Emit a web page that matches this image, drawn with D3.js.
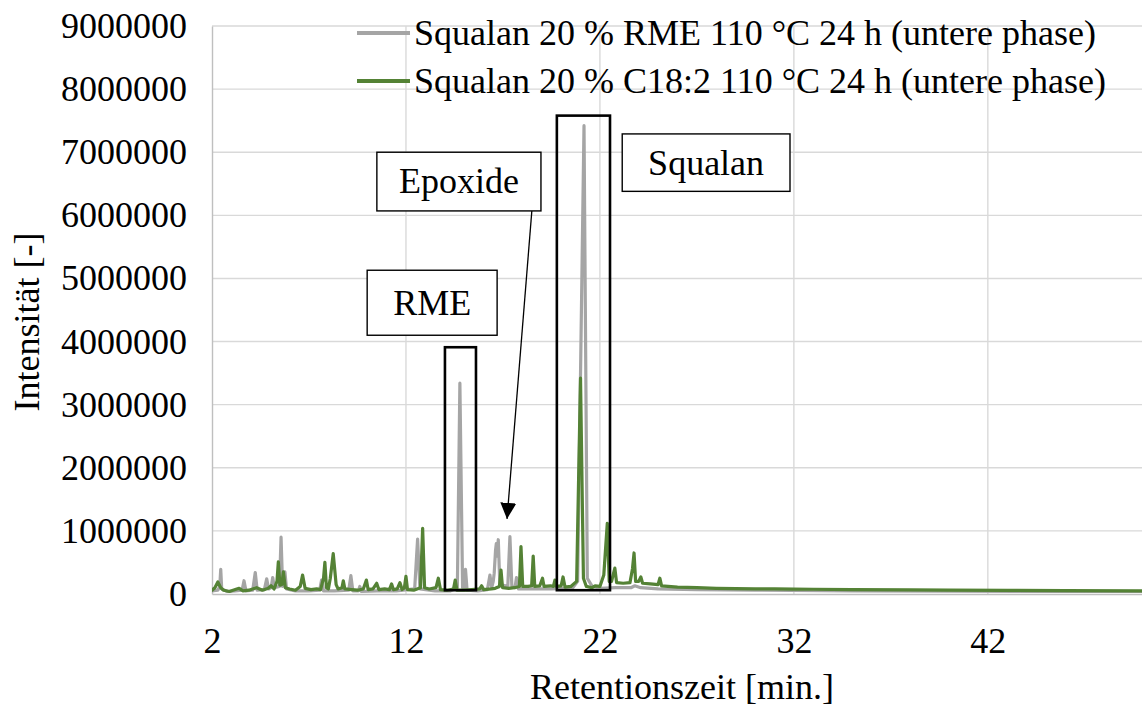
<!DOCTYPE html>
<html>
<head>
<meta charset="utf-8">
<script src="https://cdn.jsdelivr.net/npm/d3@7"></script>
<style>
  html, body { margin: 0; padding: 0; background: #fff; }
  svg { display: block; }
  svg text { font-family: 'Liberation Serif', 'Tinos', 'Times New Roman', 'DejaVu Serif', serif; fill: #000; }
</style>
</head>
<body>
<svg id="chart" width="1142" height="706"></svg>
<script>
// Retention time [min], intensity [million counts]
const rmeSeries = [
  [2.0,0.05],[2.3,0.06],[2.4,0.12],[2.45,0.39],[2.5,0.08],[2.8,0.04],[3.2,0.05],[3.55,0.06],
  [3.65,0.21],[3.75,0.05],[4.1,0.06],[4.23,0.34],[4.33,0.06],[4.7,0.07],[4.82,0.24],[4.92,0.08],
  [5.05,0.1],[5.13,0.26],[5.22,0.1],[5.48,0.12],[5.56,0.90],[5.64,0.12],[5.7,0.15],[5.76,0.35],
  [5.84,0.08],[6.3,0.05],[7.0,0.05],[7.55,0.06],[7.65,0.22],[7.75,0.05],[8.3,0.05],[9.05,0.06],
  [9.16,0.29],[9.26,0.05],[9.55,0.05],[9.62,0.12],[9.7,0.04],[10.5,0.05],[11.5,0.05],[12.45,0.08],
  [12.6,0.87],[12.72,0.08],[13.5,0.05],[14.3,0.05],[14.65,0.1],[14.78,3.34],[14.92,0.1],[15.0,0.1],
  [15.07,0.39],[15.15,0.06],[15.7,0.05],[16.2,0.07],[16.33,0.30],[16.42,0.1],[16.5,0.2],[16.55,0.33],
  [16.62,0.7],[16.66,0.80],[16.7,0.6],[16.76,0.86],[16.84,0.15],[17.25,0.12],[17.36,0.91],[17.46,0.12],
  [17.62,0.1],[17.7,0.26],[17.8,0.08],[18.5,0.08],[19.5,0.08],[20.2,0.09],[20.6,0.1],[20.85,0.2],
  [21.18,7.42],[21.35,0.25],[21.6,0.12],[22.0,0.09],[22.8,0.1],[23.6,0.1],[23.8,0.13],[24.1,0.1],
  [25,0.08],[27,0.07],[30,0.06],[35,0.05],[40,0.045],[45,0.04],[50,0.04]
];

const c18Series = [
  [2.0,0.06],[2.15,0.1],[2.3,0.19],[2.45,0.1],[2.6,0.06],[2.9,0.04],[3.2,0.07],[3.4,0.09],
  [3.6,0.05],[3.9,0.06],[4.3,0.1],[4.6,0.06],[4.9,0.09],[5.05,0.13],[5.2,0.08],[5.35,0.2],
  [5.42,0.51],[5.5,0.14],[5.6,0.15],[5.68,0.35],[5.78,0.1],[6.0,0.08],[6.3,0.06],[6.55,0.12],
  [6.67,0.30],[6.8,0.09],[7.1,0.07],[7.4,0.08],[7.6,0.07],[7.75,0.25],[7.82,0.5],[7.9,0.1],
  [8.0,0.08],[8.1,0.25],[8.25,0.64],[8.4,0.15],[8.5,0.08],[8.7,0.1],[8.77,0.21],[8.85,0.08],
  [9.2,0.07],[9.5,0.06],[9.8,0.08],[9.96,0.22],[10.05,0.07],[10.3,0.08],[10.49,0.17],[10.6,0.07],
  [10.9,0.08],[11.15,0.07],[11.26,0.16],[11.35,0.07],[11.55,0.08],[11.69,0.18],[11.8,0.07],[11.92,0.1],
  [12.0,0.28],[12.08,0.07],[12.4,0.06],[12.75,0.1],[12.86,1.04],[12.96,0.1],[13.2,0.08],[13.55,0.1],
  [13.67,0.25],[13.78,0.07],[14.1,0.06],[14.45,0.08],[14.54,0.22],[14.63,0.06],[15.0,0.06],[15.4,0.07],
  [15.8,0.08],[15.9,0.13],[16.0,0.07],[16.4,0.08],[16.6,0.09],[16.82,0.12],[16.9,0.38],[16.98,0.1],
  [17.3,0.09],[17.6,0.1],[17.85,0.12],[17.93,0.75],[18.02,0.12],[18.3,0.12],[18.48,0.13],[18.56,0.6],
  [18.64,0.12],[18.9,0.13],[19.04,0.25],[19.12,0.12],[19.45,0.13],[19.6,0.12],[19.68,0.22],[19.76,0.12],
  [20.0,0.13],[20.1,0.27],[20.2,0.11],[20.5,0.12],[20.8,0.2],[21.0,3.42],[21.15,0.25],[21.3,0.12],
  [21.6,0.1],[21.75,0.13],[22.0,0.12],[22.2,0.3],[22.38,1.12],[22.48,0.2],[22.6,0.2],[22.77,0.41],
  [22.86,0.18],[23.2,0.17],[23.55,0.18],[23.68,0.4],[23.76,0.65],[23.84,0.2],[24.0,0.2],[24.11,0.27],
  [24.2,0.17],[24.6,0.16],[25.0,0.15],[25.09,0.25],[25.18,0.13],[26,0.11],[27,0.1],[28,0.09],
  [29,0.085],[30,0.08],[31,0.08],[32,0.078],[33,0.075],[35,0.07],[38,0.065],[40,0.06],
  [43,0.058],[46,0.055],[50,0.05]
];

const seriesNames = [
  "Squalan 20 % RME 110 °C 24 h (untere phase)",
  "Squalan 20 % C18:2 110 °C 24 h (untere phase)"
];
const seriesColors = ["#A5A5A5", "#548235"];

const xTicks = [2, 12, 22, 32, 42];
const yTicks = [0, 1000000, 2000000, 3000000, 4000000, 5000000, 6000000, 7000000, 8000000, 9000000];

// Highlight frames [t0, t1, yLow, yHigh] and labelled boxes
const peakFrames = [
  [14.01, 15.61, 60000, 3910000],
  [19.78, 22.52, 60000, 7580000]
];
const labelBoxes = [
  { text: "RME",     t0: 10.0,  t1: 16.7,  y0: 4100000, y1: 5130000 },
  { text: "Epoxide", t0: 10.5,  t1: 18.96, y0: 6070000, y1: 7000000 },
  { text: "Squalan", t0: 23.15, t1: 31.8,  y0: 6380000, y1: 7290000 }
];
const epoxideArrow = { from: [18.49, 6070000], to: [17.21, 1190000] };

const FONT = "'Liberation Serif', 'Tinos', 'Times New Roman', 'DejaVu Serif', serif";
const FS = 36;

const svg = d3.select("#chart");
const M = { left: 212, right: 1143, top: 26, bottom: 594 };

const x = d3.scaleLinear().domain([2, 50]).range([M.left, M.right]);
const y = d3.scaleLinear().domain([0, 9000000]).range([M.bottom, M.top]);

// grid
const grid = svg.append("g");
grid.selectAll(".hg").data(yTicks.slice(1)).join("line")
  .attr("x1", M.left).attr("x2", M.right)
  .attr("y1", d => y(d)).attr("y2", d => y(d))
  .attr("stroke", "#D9D9D9").attr("stroke-width", 1.4);
grid.selectAll(".vg").data(xTicks.slice(1)).join("line")
  .attr("x1", d => x(d)).attr("x2", d => x(d))
  .attr("y1", M.top).attr("y2", M.bottom)
  .attr("stroke", "#D9D9D9").attr("stroke-width", 1.4);

// axes
const yAxis = svg.append("g").attr("transform", `translate(${M.left},0)`)
  .call(d3.axisLeft(y).tickValues(yTicks).tickFormat(d3.format("d")).tickSize(0).tickPadding(25));
const xAxis = svg.append("g").attr("transform", `translate(0,${M.bottom})`)
  .call(d3.axisBottom(x).tickValues(xTicks).tickFormat(d3.format("d")).tickSize(0).tickPadding(33));
[yAxis, xAxis].forEach(a => {
  a.attr("font-family", FONT).attr("font-size", FS);
  a.select(".domain").attr("stroke", "#BFBFBF").attr("stroke-width", 1.4);
  a.selectAll("text").attr("font-family", FONT).attr("font-size", FS).attr("fill", "#000");
});

// series
svg.append("clipPath").attr("id", "plotClip").append("rect")
  .attr("x", M.left).attr("y", M.top - 5).attr("width", M.right - M.left).attr("height", M.bottom - M.top + 5);
const line = d3.line().x(d => x(d[0])).y(d => y(d[1] * 1e6));
[rmeSeries, c18Series].forEach((s, i) => {
  svg.append("path").datum(s)
    .attr("clip-path", "url(#plotClip)")
    .attr("d", line).attr("fill", "none")
    .attr("stroke", seriesColors[i]).attr("stroke-width", 3.2)
    .attr("stroke-linejoin", "round").attr("stroke-linecap", "round");
});

// frames around peaks
svg.selectAll(".frame").data(peakFrames).join("rect")
  .attr("x", d => x(d[0])).attr("y", d => y(d[3]))
  .attr("width", d => x(d[1]) - x(d[0])).attr("height", d => y(d[2]) - y(d[3]))
  .attr("fill", "none").attr("stroke", "#000").attr("stroke-width", 2.6);

// arrow
svg.append("defs").append("marker").attr("id", "head")
  .attr("viewBox", "0 0 10 10").attr("refX", 10).attr("refY", 5)
  .attr("markerWidth", 16).attr("markerHeight", 16).attr("markerUnits", "userSpaceOnUse")
  .attr("orient", "auto")
  .append("path").attr("d", "M0,0 L10,5 L0,10 Z").attr("fill", "#000");
svg.append("line")
  .attr("x1", x(epoxideArrow.from[0])).attr("y1", y(epoxideArrow.from[1]))
  .attr("x2", x(epoxideArrow.to[0])).attr("y2", y(epoxideArrow.to[1]))
  .attr("stroke", "#000").attr("stroke-width", 1.3).attr("marker-end", "url(#head)");

// labelled boxes
const lb = svg.selectAll(".lb").data(labelBoxes).join("g");
lb.append("rect")
  .attr("x", d => x(d.t0)).attr("y", d => y(d.y1))
  .attr("width", d => x(d.t1) - x(d.t0)).attr("height", d => y(d.y0) - y(d.y1))
  .attr("fill", "#fff").attr("stroke", "#000").attr("stroke-width", 1.4);
lb.append("text")
  .attr("x", d => (x(d.t0) + x(d.t1)) / 2).attr("y", d => (y(d.y0) + y(d.y1)) / 2)
  .attr("dy", "0.33em").attr("text-anchor", "middle")
  .attr("font-family", FONT).attr("font-size", FS)
  .text(d => d.text);

// axis titles
svg.append("text").attr("x", 682).attr("y", 699).attr("text-anchor", "middle")
  .attr("font-family", FONT).attr("font-size", FS).text("Retentionszeit [min.]");
svg.append("text").attr("transform", "translate(39,322) rotate(-90)").attr("text-anchor", "middle")
  .attr("font-family", FONT).attr("font-size", FS).text("Intensität [-]");

// legend
const lg = svg.selectAll(".lg").data(seriesNames).join("g")
  .attr("transform", (d, i) => `translate(0,${i * 48})`);
lg.append("line").attr("x1", 357).attr("x2", 410).attr("y1", 33).attr("y2", 33)
  .attr("stroke", (d, i) => seriesColors[i]).attr("stroke-width", 4);
lg.append("text").attr("x", 414).attr("y", 45)
  .attr("font-family", FONT).attr("font-size", FS).text(d => d);
</script>
</body>
</html>
